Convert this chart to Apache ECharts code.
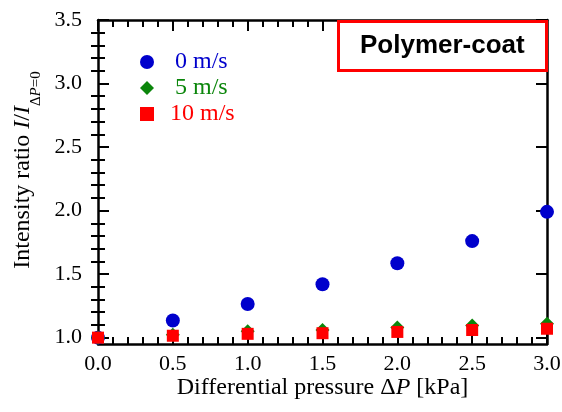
<!DOCTYPE html>
<html>
<head>
<meta charset="utf-8">
<script src="https://cdn.jsdelivr.net/npm/echarts@6/dist/echarts.min.js"></script>
<style>
  html, body { margin: 0; padding: 0; background: #fff; }
  #chart { width: 562px; height: 412px; }
</style>
</head>
<body>
<div id="chart"></div>
<script>
// --- data ---
const pressure = [0, 0.5, 1.0, 1.5, 2.0, 2.5, 3.0];
const speed0 = [1.00, 1.135, 1.265, 1.42, 1.585, 1.76, 1.99];
const speed5 = [1.00, 1.022, 1.05, 1.06, 1.08, 1.095, 1.11];
const speed10 = [1.00, 1.015, 1.03, 1.035, 1.045, 1.06, 1.07];
const yTicks = [1.0, 1.5, 2.0, 2.5, 3.0, 3.5];

// minor ticks every 0.1 between the majors
const yMinor = [];
for (let i = 11; i < 35; i++) {
  if (i % 5 !== 0) yMinor.push(i / 10);
}

const BLUE = '#0000cc';
const GREEN = '#0b860b';
const RED = '#ff0000';
const SERIF = 'Liberation Serif';

const toPairs = (vals) => pressure.map((x, i) => [x, vals[i]]);

const lineStyle = { color: '#000', width: 2.5 };
const tickStyle = { color: '#000', width: 2 };

const xCommon = {
  type: 'value', min: 0, max: 3, interval: 0.5,
  axisLine: { show: true, onZero: false, lineStyle: lineStyle },
  axisTick: { show: true, inside: true, length: 11, lineStyle: tickStyle },
  minorTick: { show: true, splitNumber: 5, length: 7, lineStyle: tickStyle },
  splitLine: { show: false }
};

const yCommon = {
  type: 'value', min: 0.95, max: 3.5,
  splitLine: { show: false }
};

const chart = echarts.init(document.getElementById('chart'));

chart.setOption({
  backgroundColor: '#fff',
  animation: false,
  title: {
    text: 'Polymer-coat',
    left: 338,
    top: 21,
    padding: [12, 22, 12, 22],
    borderColor: RED,
    borderWidth: 3,
    backgroundColor: '#fff',
    textStyle: {
      fontFamily: 'Liberation Sans',
      fontSize: 26,
      fontWeight: 'bold',
      color: '#000'
    }
  },
  legend: {
    orient: 'vertical',
    left: 135,
    top: 45,
    itemWidth: 14,
    itemHeight: 14,
    itemGap: 2,
    textStyle: { fontFamily: SERIF, fontSize: 24, lineHeight: 24 },
    data: [
      { name: '0 m/s', icon: 'circle', textStyle: { color: BLUE, padding: [0, 0, 0, 16] } },
      { name: '5 m/s', icon: 'diamond', textStyle: { color: GREEN, padding: [0, 0, 0, 16] } },
      { name: '10 m/s', icon: 'rect', textStyle: { color: RED, padding: [0, 0, 0, 11] } }
    ]
  },
  grid: { left: 98, right: 15, top: 20, bottom: 68, outerBoundsMode: 'none' },
  xAxis: [
    Object.assign({}, xCommon, {
      position: 'bottom',
      name: '{n|Differential pressure Δ}{i|P}{n| [kPa]}',
      nameLocation: 'middle',
      nameGap: 32,
      nameMoveOverlap: false,
      nameTextStyle: {
        rich: {
          n: { fontFamily: SERIF, fontSize: 24, color: '#000' },
          i: { fontFamily: SERIF, fontSize: 24, fontStyle: 'italic', color: '#000' }
        }
      },
      axisLabel: {
        margin: 9,
        fontFamily: SERIF, fontSize: 22, color: '#000',
        formatter: (v) => v.toFixed(1)
      }
    }),
    Object.assign({}, xCommon, {
      position: 'top',
      axisLabel: { show: false }
    })
  ],
  yAxis: [
    Object.assign({}, yCommon, {
      position: 'left',
      axisLine: { show: true, onZero: false, lineStyle: lineStyle },
      axisTick: { show: true, inside: true, length: 11, lineStyle: tickStyle, customValues: yTicks },
      axisLabel: {
        margin: 16,
        fontFamily: SERIF, fontSize: 22, color: '#000',
        customValues: yTicks,
        formatter: (v) => v.toFixed(1)
      },
      name: '{n|Intensity ratio }{i|I}{n|/}{i|I}{s|Δ}{si|P}{s|=0}',
      nameLocation: 'middle',
      nameGap: 63,
      nameMoveOverlap: false,
      nameTextStyle: {
        padding: [0, 0, 0, 24],
        rich: {
          n: { fontFamily: SERIF, fontSize: 24, lineHeight: 24, verticalAlign: 'top', color: '#000' },
          i: { fontFamily: SERIF, fontSize: 24, lineHeight: 24, verticalAlign: 'top', fontStyle: 'italic', color: '#000' },
          s: { fontFamily: SERIF, fontSize: 15, lineHeight: 15, padding: [27, 0, 0, 0], color: '#000' },
          si: { fontFamily: SERIF, fontSize: 15, lineHeight: 15, padding: [27, 0, 0, 0], fontStyle: 'italic', color: '#000' }
        }
      }
    }),
    Object.assign({}, yCommon, {
      position: 'right',
      axisLine: { show: true, onZero: false, lineStyle: lineStyle },
      axisTick: { show: true, inside: true, length: 11, lineStyle: tickStyle, customValues: yTicks },
      axisLabel: { show: false }
    }),
    Object.assign({}, yCommon, {
      position: 'left',
      axisLine: { show: false },
      axisTick: { show: true, inside: true, length: 7, lineStyle: tickStyle, customValues: yMinor },
      axisLabel: { show: false }
    }),
    Object.assign({}, yCommon, {
      position: 'right',
      axisLine: { show: false },
      axisTick: { show: true, inside: true, length: 7, lineStyle: tickStyle, customValues: yMinor },
      axisLabel: { show: false }
    })
  ],
  series: [
    {
      name: '0 m/s', type: 'scatter', symbol: 'circle', symbolSize: 14,
      itemStyle: { color: BLUE, opacity: 1 }, clip: false, data: toPairs(speed0)
    },
    {
      name: '5 m/s', type: 'scatter', symbol: 'diamond', symbolSize: 14,
      itemStyle: { color: GREEN, opacity: 1 }, clip: false, data: toPairs(speed5)
    },
    {
      name: '10 m/s', type: 'scatter', symbol: 'rect', symbolSize: 12,
      itemStyle: { color: RED, opacity: 1 }, clip: false, data: toPairs(speed10)
    }
  ]
});
</script>
</body>
</html>
